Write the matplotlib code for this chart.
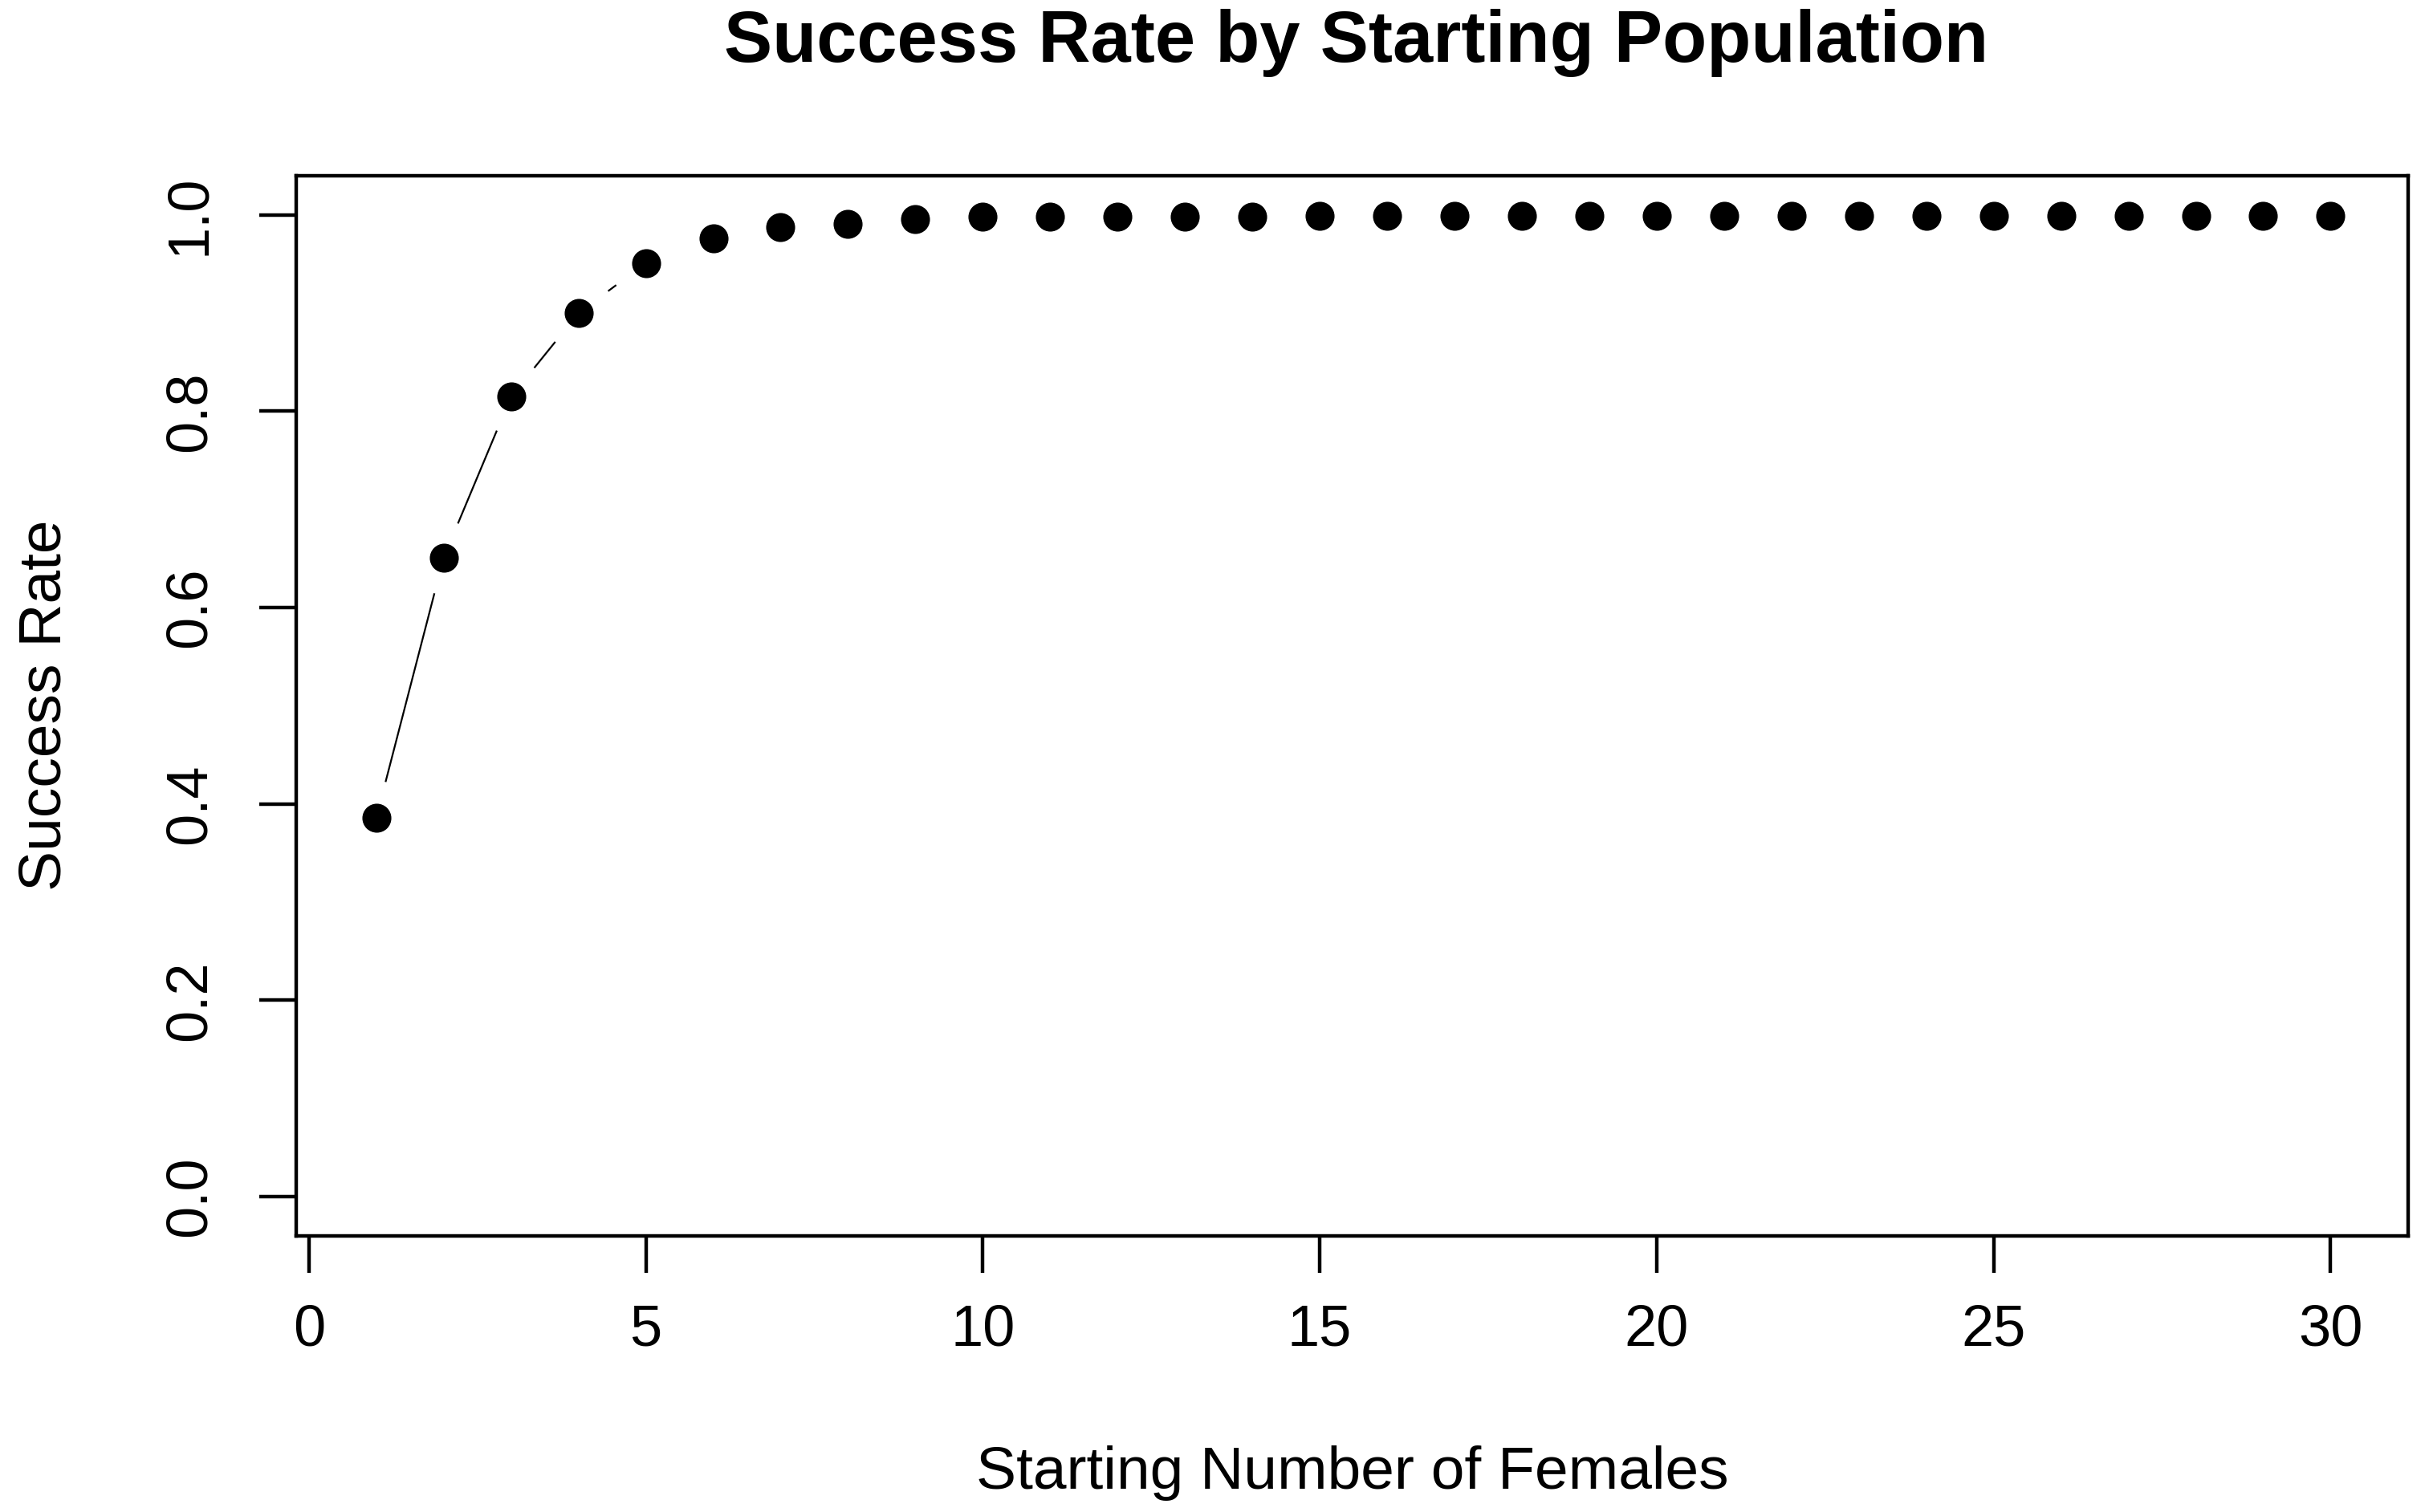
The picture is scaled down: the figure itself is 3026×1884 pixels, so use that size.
import matplotlib
matplotlib.use("Agg")
import matplotlib.pyplot as plt
import numpy as np

# data
females = list(range(1, 31))
success = [0.386, 0.651, 0.815, 0.900, 0.951, 0.976, 0.988, 0.991, 0.996, 0.998,
           0.998, 0.998, 0.998, 0.998, 0.999, 0.999, 0.999, 0.999, 0.999, 0.999,
           0.999, 0.999, 0.999, 0.999, 0.999, 0.999, 0.999, 0.999, 0.999, 0.999]
x_ticks = [0, 5, 10, 15, 20, 25, 30]
y_ticks = [0.0, 0.2, 0.4, 0.6, 0.8, 1.0]
y_tick_labels = ["0.0", "0.2", "0.4", "0.6", "0.8", "1.0"]

plt.rcParams['font.family'] = ['Liberation Sans', 'DejaVu Sans']

DPI = 200
fig = plt.figure(figsize=(3026 / DPI, 1884 / DPI), dpi=DPI)
ax = fig.add_axes([0.1219, 0.1826, 0.9914 - 0.1219, 0.8838 - 0.1826])

ax.set_xlim(-0.19, 31.15)
ax.set_ylim(-0.04, 1.04)

# points
ax.plot(females, success, linestyle='none', marker='o', markersize=12,
        color='black')

# R type="b": segments with a gap around each point
gap = 46  # pixels
pts = ax.transData.transform(np.column_stack([females, success]))
inv = ax.transData.inverted()
for p1, p2 in zip(pts[:-1], pts[1:]):
    d = p2 - p1
    dist = np.hypot(*d)
    if dist <= 2 * gap:
        continue
    u = d / dist
    a = inv.transform(p1 + u * gap)
    b = inv.transform(p2 - u * gap)
    ax.plot([a[0], b[0]], [a[1], b[1]], color='black', linewidth=0.8,
            solid_capstyle='butt')

for s in ax.spines.values():
    s.set_linewidth(1.6)

ax.set_xticks(x_ticks)
ax.set_xticklabels([str(t) for t in x_ticks])
ax.set_yticks(y_ticks)
ax.set_yticklabels(y_tick_labels, rotation=90, va='center')
ax.tick_params(axis='both', direction='out', length=16.5, width=1.6,
               labelsize=26)
ax.tick_params(axis='x', pad=14)
ax.tick_params(axis='y', pad=19)

fig.text(0.5584, 0.9714, "Success Rate by Starting Population", ha='center',
         va='center', fontsize=32.5, fontweight='bold')
fig.text(0.5567, 0.026, "Starting Number of Females", ha='center',
         va='center', fontsize=27)
fig.text(0.0185, 0.5334, "Success Rate", ha='center', va='center',
         rotation=90, fontsize=27)

fig.savefig("out.png", dpi=DPI)
